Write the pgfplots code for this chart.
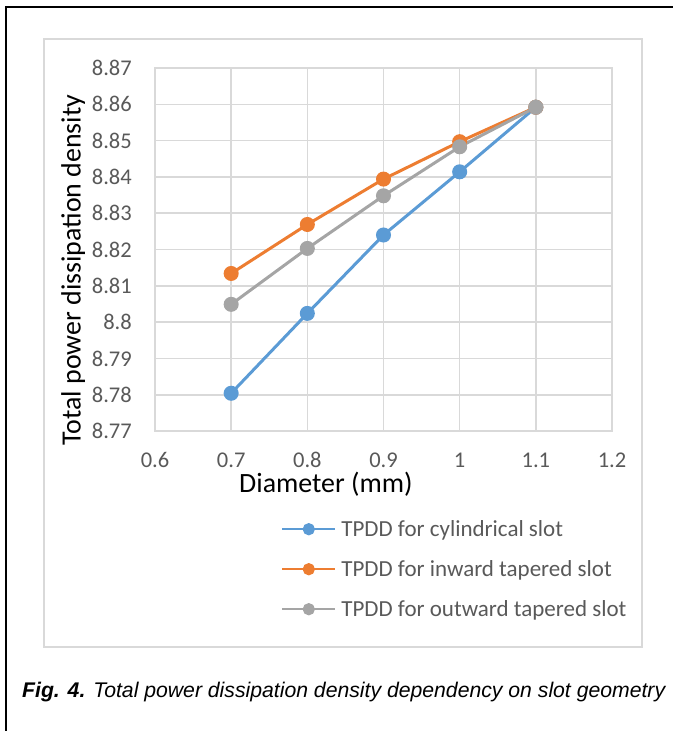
\documentclass[border=0pt]{standalone}
\usepackage{fontspec}
\setmainfont{Carlito}
\newfontfamily\arialfont{Liberation Sans}
\usepackage{pgfplots}
\pgfplotsset{compat=1.18}
\definecolor{cblue}{HTML}{5B9BD5}
\definecolor{corange}{HTML}{ED7D31}
\definecolor{cgray}{HTML}{A5A5A5}
\definecolor{gridgray}{HTML}{D9D9D9}
\definecolor{ticktext}{HTML}{595959}
\begin{document}
\begin{tikzpicture}[x=1bp,y=1bp]
\path[use as bounding box] (0,0) rectangle (673,-731);
% outer frame (left and top)
\draw[black,line width=2.3bp] (6,-731) -- (6,-7) -- (673,-7);
% chart area border
\draw[gridgray,line width=1.6bp] (44,-39) rectangle (642,-647);
\begin{axis}[
  at={(155bp,-431bp)}, anchor=south west,
  scale only axis, width=457bp, height=363bp,
  xmin=0.6, xmax=1.2, ymin=8.77, ymax=8.87,
  xtick={0.6,0.7,0.8,0.9,1,1.1,1.2},
  xticklabels={0.6,0.7,0.8,0.9,1,1.1,1.2},
  ytick={8.77,8.78,8.79,8.80,8.81,8.82,8.83,8.84,8.85,8.86,8.87},
  yticklabels={8.77,8.78,8.79,8.8,8.81,8.82,8.83,8.84,8.85,8.86,8.87},
  major tick length=0pt,
  grid=major,
  grid style={draw=gridgray, line width=1.6bp},
  axis line style={draw=gridgray, line width=1.6bp},
  tick label style={font=\fontsize{22.5bp}{27bp}\selectfont, text=ticktext, inner sep=0pt},
  xticklabel style={anchor=center, yshift=-29bp},
  yticklabel style={anchor=east, xshift=-23bp},
  xlabel={Diameter (mm)},
  ylabel={Total power dissipation density},
  label style={font=\fontsize{27.9bp}{33bp}\selectfont, text=black, inner sep=0pt},
  xlabel style={at={(axis description cs:0.374,-0.146)}, anchor=center},
  ylabel style={at={(axis description cs:-0.179,0.4435)}, anchor=center, rotate=0},
  legend cell align=left,
  legend style={
    at={(axis description cs:0.2757,-0.2424)}, anchor=north west,
    draw=none, fill=none, inner sep=0pt, row sep=20bp, column sep=5bp,
    font=\fontsize{23bp}{28bp}\selectfont, text=ticktext,
    nodes={inner sep=0pt, text height=17bp, text depth=3bp}
  },
  legend image code/.code={%
    \draw[mark repeat=2,mark phase=2,#1,line width=2.2bp,mark size=5bp] plot coordinates {(0bp,0bp) (26.5bp,0bp) (53bp,0bp)};},
  every axis plot/.append style={line width=3bp, mark=*, mark size=6bp, mark options={solid}},
  clip=false
]
\addplot[color=cblue, mark options={fill=cblue, draw=cblue}] coordinates {
  (0.7,8.7804) (0.8,8.8024) (0.9,8.8240) (1.0,8.8414) (1.1,8.8592)};
\addlegendentry{TPDD for cylindrical slot}
\addplot[color=corange, mark options={fill=corange, draw=corange}] coordinates {
  (0.7,8.8134) (0.8,8.8269) (0.9,8.8394) (1.0,8.8497) (1.1,8.8592)};
\addlegendentry{TPDD for inward tapered slot}
\addplot[color=cgray, mark options={fill=cgray, draw=cgray}] coordinates {
  (0.7,8.8049) (0.8,8.8203) (0.9,8.8348) (1.0,8.8483) (1.1,8.8592)};
\addlegendentry{TPDD for outward tapered slot}
\end{axis}
\node[anchor=base west, inner sep=0pt, font=\arialfont\fontsize{21.2bp}{25bp}\selectfont\itshape] at (22,-697)
  {\textbf{Fig. 4.} Total power dissipation density dependency on slot geometry};
\end{tikzpicture}
\end{document}
